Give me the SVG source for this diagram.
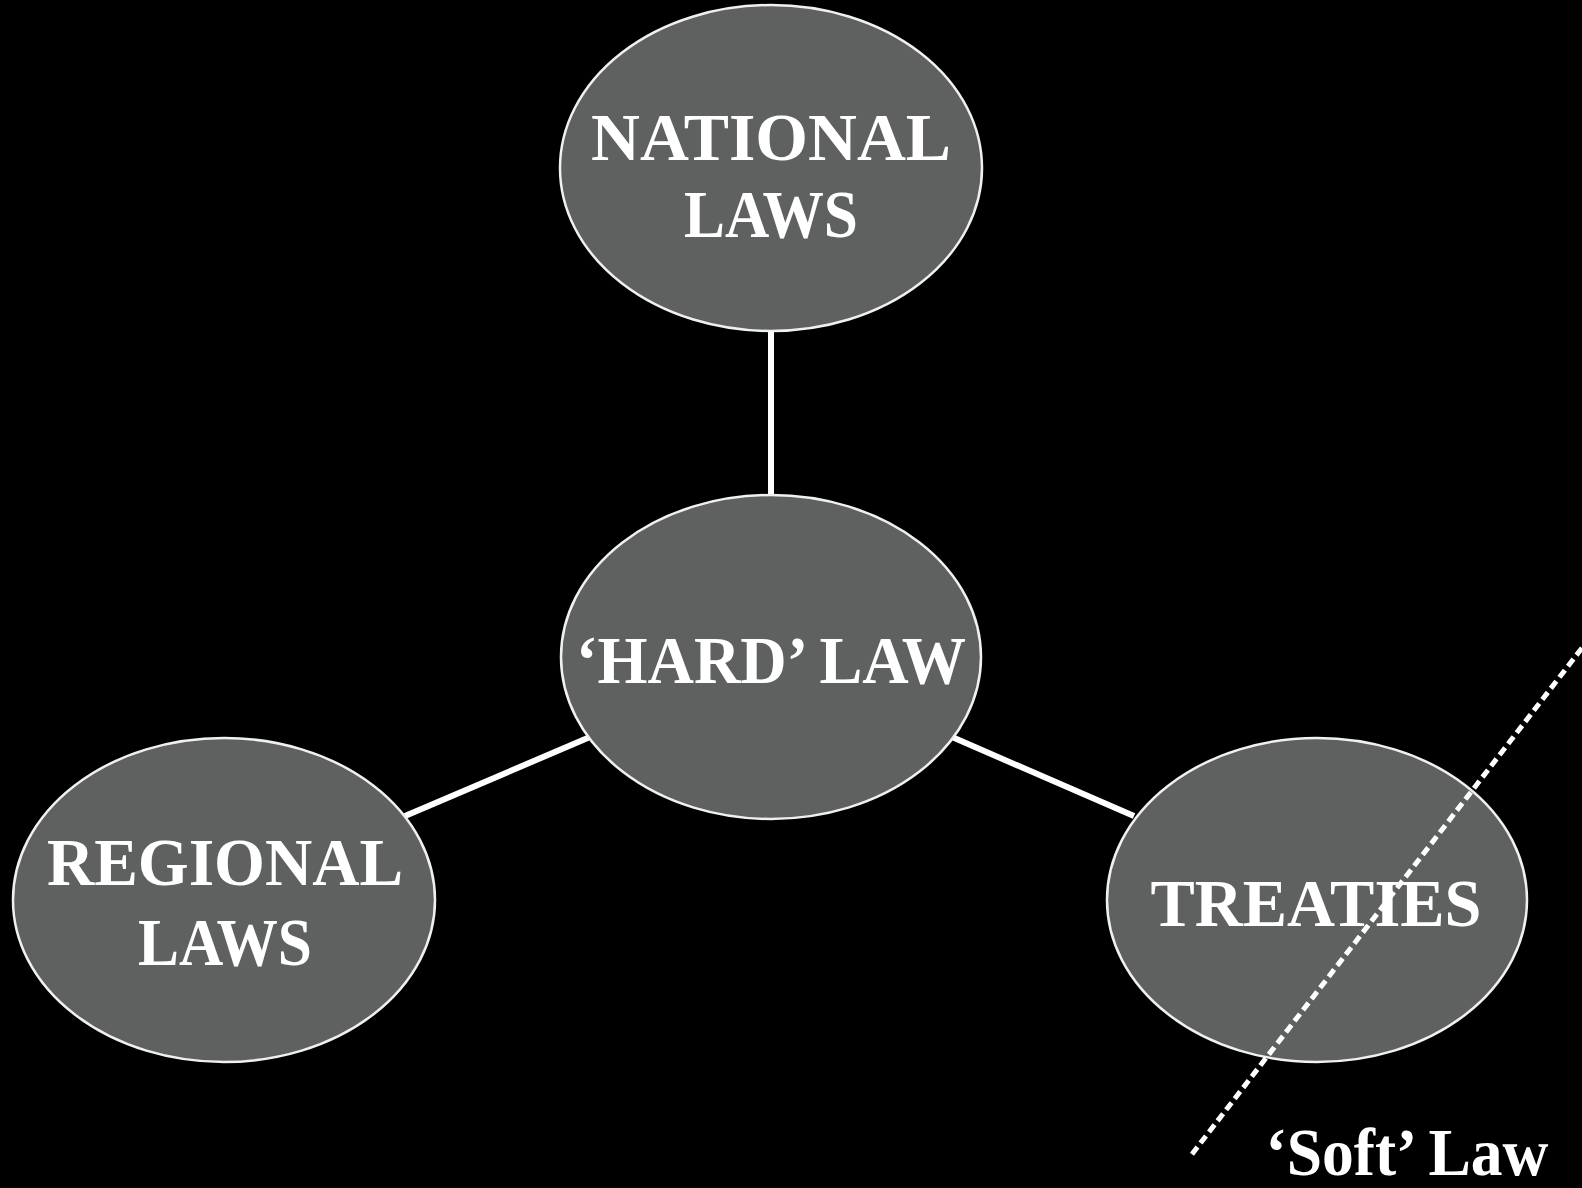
<svg xmlns="http://www.w3.org/2000/svg" width="1582" height="1188" viewBox="0 0 1582 1188">
<style>
.node ellipse{fill:#5f6160;stroke:#f0f0f0;stroke-width:2.5}
.lbl{font-family:"Liberation Serif","DejaVu Serif",serif;font-weight:bold;font-size:68px;fill:#ffffff;text-anchor:middle}
.conn line{stroke:#ffffff;stroke-width:6}
.dash{stroke:#ffffff;stroke-width:5;stroke-dasharray:9 5;fill:none}
</style>
<rect x="0" y="0" width="1582" height="1188" fill="#000000"/>
<g id="connectors" class="conn">
<line x1="771" y1="331" x2="771" y2="496"/>
<line x1="590" y1="737" x2="405" y2="816"/>
<line x1="952" y1="737" x2="1134" y2="816"/>
</g>
<g id="node-national" class="node">
<ellipse cx="771" cy="168" rx="211" ry="163"/>
<text class="lbl" x="771" y="160" textLength="360" lengthAdjust="spacingAndGlyphs">NATIONAL</text>
<text class="lbl" x="771" y="237" textLength="174" lengthAdjust="spacingAndGlyphs">LAWS</text>
</g>
<g id="node-hard" class="node">
<ellipse cx="771" cy="657" rx="210" ry="162"/>
<text class="lbl" x="771" y="683" textLength="390" lengthAdjust="spacingAndGlyphs">‘HARD’ LAW</text>
</g>
<g id="node-regional" class="node">
<ellipse cx="224" cy="900" rx="211" ry="162"/>
<text class="lbl" x="225" y="885" textLength="356" lengthAdjust="spacingAndGlyphs">REGIONAL</text>
<text class="lbl" x="225" y="965" textLength="174" lengthAdjust="spacingAndGlyphs">LAWS</text>
</g>
<g id="node-treaties" class="node">
<ellipse cx="1317" cy="900" rx="210" ry="162"/>
<text class="lbl" x="1316" y="926" textLength="331" lengthAdjust="spacingAndGlyphs">TREATIES</text>
</g>
<g id="soft-law">
<line class="dash" x1="1582" y1="648" x2="1189" y2="1158"/>
<text class="lbl" x="1407" y="1175" textLength="283" lengthAdjust="spacingAndGlyphs">‘Soft’ Law</text>
</g>
</svg>
